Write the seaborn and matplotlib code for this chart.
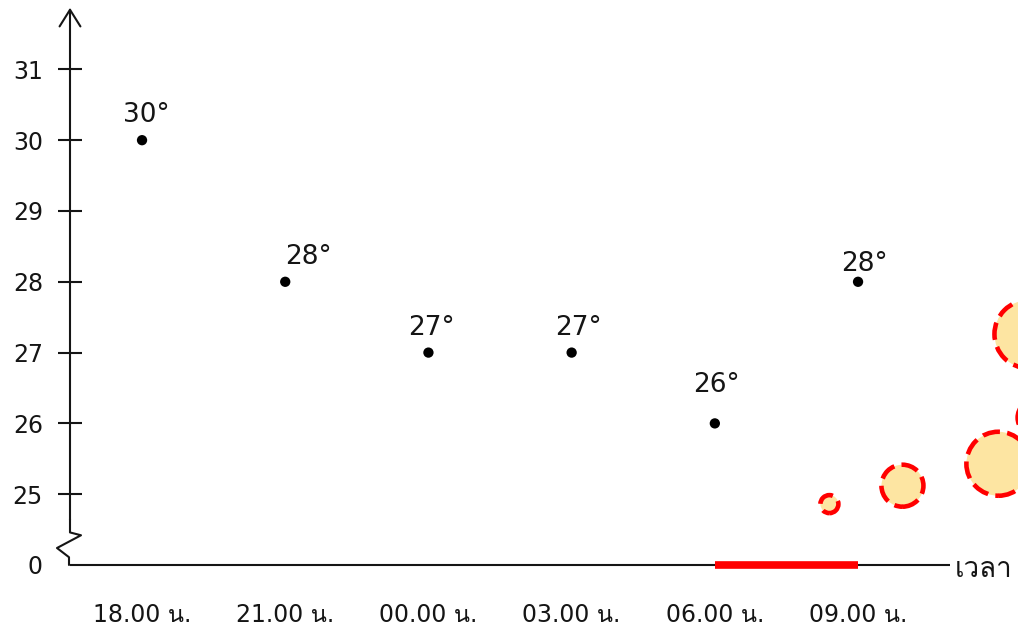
import matplotlib
matplotlib.use('Agg')
import matplotlib.pyplot as plt
from matplotlib import font_manager
import seaborn as sns
import pandas as pd
from fontTools.ttLib import TTFont

# Data
times = ['18.00 น.', '21.00 น.', '00.00 น.', '03.00 น.', '06.00 น.', '09.00 น.']
temps = [30, 28, 27, 27, 26, 28]
ytick_values = [25, 26, 27, 28, 29, 30, 31]
axis_label = 'เวลา'

# decorative bubbles in the lower right corner
bubble_x = [4.80, 5.31, 5.98, 6.19, 6.24]
bubble_y = [24.86, 25.12, 25.43, 27.26, 26.08]
bubble_s = [168, 914, 2123, 2397, 672]


def find_thai_font():
    for f in font_manager.fontManager.ttflist:
        try:
            font = TTFont(f.fname, fontNumber=0, lazy=True)
            cmap = font.getBestCmap()
            if cmap and ord('น') in cmap:
                return f.name
        except Exception:
            continue
    return None


sns.set_style('white')
thai = find_thai_font()
plt.rcParams['font.family'] = ['DejaVu Sans'] + ([thai] if thai else [])

ink = '#151515'
df = pd.DataFrame({'pos': range(len(times)), 'temp': temps})

fig = plt.figure(figsize=(10.18, 6.27), dpi=100)
ax = fig.add_axes([70 / 1018, 62 / 627, 1 - 70 / 1018, 1 - 62 / 627])
ax.set_xlim(-0.503, 6.117)
ax.set_ylim(24, 31.98)
for s in ax.spines.values():
    s.set_visible(False)

# the "0" sits one step below 25 because of the broken axis
break_pos = 24
ax.set_yticks([break_pos] + ytick_values, ['0'] + [str(v) for v in ytick_values])
ax.tick_params(axis='y', left=True, direction='inout', length=17, width=1.5, pad=11,
               labelsize=17, colors=ink)
ax.yaxis.get_major_ticks()[0].tick1line.set_visible(False)
ax.set_xticks(range(len(times)), times)
ax.tick_params(axis='x', bottom=True, length=0, pad=27, labelsize=17, colors=ink)

# axes drawn by hand: x axis line, broken y axis with arrow
ax.plot([-0.503, 5.642], [break_pos, break_pos], color=ink, lw=1.5, clip_on=False, solid_capstyle='butt')
ax.plot([4, 5], [break_pos, break_pos], color='#ff0000', lw=5.5, solid_capstyle='butt', clip_on=False)
trans = ax.get_yaxis_transform()
ax.plot([0, 0, 11 / 948, -13 / 948, -1 / 948, -1 / 948],
        [24.65, 24.46, 24.42, 24.24, 24.11, break_pos],
        color=ink, lw=1.5, transform=trans, clip_on=False)
ax.annotate('', xy=(0, 31.87), xytext=(0, 24.64), xycoords=trans, textcoords=trans,
            arrowprops=dict(arrowstyle='->,head_length=1.2,head_width=0.75', lw=1.5,
                            color=ink, mutation_scale=10, shrinkA=0, shrinkB=0),
            annotation_clip=False)
ax.text(5.675, break_pos - 0.06, axis_label, fontsize=20, ha='left', va='center', color=ink, clip_on=False)

# temperature points with their labels
sns.scatterplot(data=df, x='pos', y='temp', color='black', s=55, edgecolor='none', ax=ax, zorder=3)
label_dx = [4, 23, 3, 7, 2, 6]
label_dy = [18, 18, 18, 18, 31, 11]
for i, t in enumerate(temps):
    ax.annotate(f'{t}°', (i, t), xytext=(label_dx[i] * 0.72, label_dy[i] * 0.72),
                textcoords='offset points', ha='center', va='baseline', fontsize=19, color=ink)

ax.scatter(bubble_x, bubble_y, s=bubble_s, facecolor='#fde5a2', edgecolor='#ff0000',
           linewidth=3.3, linestyle=(0, (3.8, 1.6)), zorder=4, clip_on=False)

ax.set_xlabel('')
ax.set_ylabel('')
fig.savefig('out.png', dpi=100)
